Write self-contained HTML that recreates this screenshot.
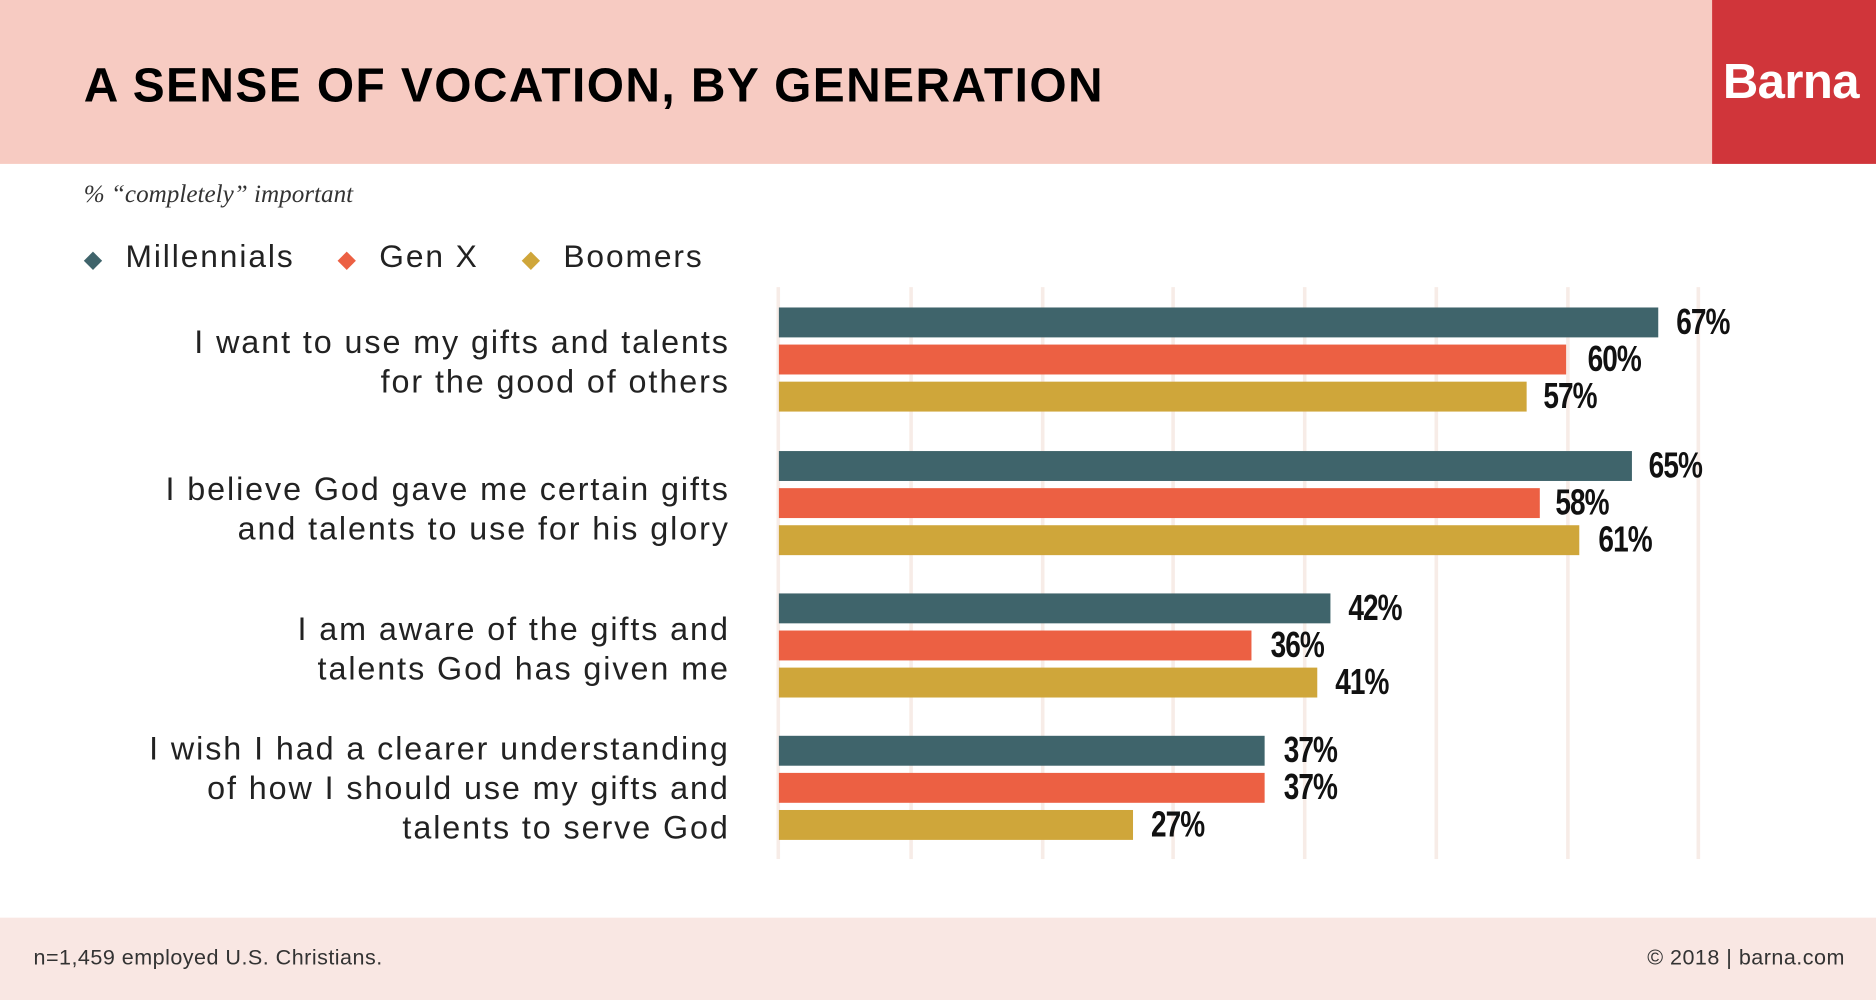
<!DOCTYPE html>
<html><head><meta charset="utf-8"><style>
html,body{margin:0;padding:0;background:#fff;overflow:hidden}
#w{position:absolute;left:0;top:0;width:1568px;height:836px;transform:scale(1.19643);transform-origin:0 0;font-family:"Liberation Sans",sans-serif}
.a{position:absolute}
.bar{position:absolute;left:651px;height:25px}
.m{background:#3f646b}.g{background:#ec6043}.b{background:#cfa63a}
.v{position:absolute;font-family:"Liberation Sans Narrow","Liberation Sans",sans-serif;font-weight:bold;font-size:30px;line-height:25px;color:#111;transform:scaleX(0.78);transform-origin:0 50%;letter-spacing:-1px}
.gl{position:absolute;top:240px;height:478px;width:3px;background:#f7ece7}
.lab{position:absolute;right:958px;text-align:right;font-size:27px;line-height:33px;color:#222;letter-spacing:1.6px;white-space:nowrap}
</style></head><body><div id="w">
<div class="a" style="left:0;top:0;width:1431px;height:137px;background:#f7cbc2"></div>
<div class="a" style="left:1431px;top:0;width:137px;height:137px;background:#d0353a"></div>
<div class="a" style="left:1440px;top:45px;color:#fff;font-weight:bold;font-size:41px;letter-spacing:-0.5px">Barna</div>
<div class="a" style="left:70px;top:50px;font-weight:bold;font-size:40px;color:#000;letter-spacing:1.2px;white-space:nowrap">A SENSE OF VOCATION, BY GENERATION</div>
<div class="a" style="left:70px;top:150px;font-family:'Liberation Serif',serif;font-style:italic;font-size:21px;color:#333">% “completely” important</div>
<div class="a" style="left:70px;top:199px;font-size:26.5px;color:#222;white-space:nowrap;letter-spacing:1.6px">
<span style="color:#3f646b;font-size:20px">◆</span>&nbsp;&nbsp;Millennials&nbsp;&nbsp;&nbsp;&nbsp;<span style="color:#ec6043;font-size:20px">◆</span>&nbsp;&nbsp;Gen X&nbsp;&nbsp;&nbsp;&nbsp;<span style="color:#cfa63a;font-size:20px">◆</span>&nbsp;&nbsp;Boomers</div>
<div class="gl" style="left:649px"></div><div class="gl" style="left:760px"></div><div class="gl" style="left:870px"></div><div class="gl" style="left:979px"></div><div class="gl" style="left:1089px"></div><div class="gl" style="left:1199px"></div><div class="gl" style="left:1309px"></div><div class="gl" style="left:1418px"></div>
<div class="lab" style="top:270px">I want to use my gifts and talents<br>for the good of others</div>
<div class="lab" style="top:393px">I believe God gave me certain gifts<br>and talents to use for his glory</div>
<div class="lab" style="top:510px">I am aware of the gifts and<br>talents God has given me</div>
<div class="lab" style="top:610px">I wish I had a clearer understanding<br>of how I should use my gifts and<br>talents to serve God</div>
<div class="bar m" style="top:257px;width:735px"></div><div class="v" style="left:1401px;top:257px">67%</div>
<div class="bar g" style="top:288px;width:658px"></div><div class="v" style="left:1327px;top:288px">60%</div>
<div class="bar b" style="top:319px;width:625px"></div><div class="v" style="left:1290px;top:319px">57%</div>
<div class="bar m" style="top:377px;width:713px"></div><div class="v" style="left:1378px;top:377px">65%</div>
<div class="bar g" style="top:408px;width:636px"></div><div class="v" style="left:1300px;top:408px">58%</div>
<div class="bar b" style="top:439px;width:669px"></div><div class="v" style="left:1336px;top:439px">61%</div>
<div class="bar m" style="top:496px;width:461px"></div><div class="v" style="left:1127px;top:496px">42%</div>
<div class="bar g" style="top:527px;width:395px"></div><div class="v" style="left:1062px;top:527px">36%</div>
<div class="bar b" style="top:558px;width:450px"></div><div class="v" style="left:1116px;top:558px">41%</div>
<div class="bar m" style="top:615px;width:406px"></div><div class="v" style="left:1073px;top:615px">37%</div>
<div class="bar g" style="top:646px;width:406px"></div><div class="v" style="left:1073px;top:646px">37%</div>
<div class="bar b" style="top:677px;width:296px"></div><div class="v" style="left:962px;top:677px">27%</div>
<div class="a" style="left:0;top:767px;width:1568px;height:69px;background:#f9e7e3"></div>
<div class="a" style="left:28px;top:790px;font-size:18px;color:#333;letter-spacing:0.4px">n=1,459 employed U.S. Christians.</div>
<div class="a" style="right:26px;top:790px;font-size:18px;color:#333;letter-spacing:0.4px">© 2018 | barna.com</div>
</div></body></html>
